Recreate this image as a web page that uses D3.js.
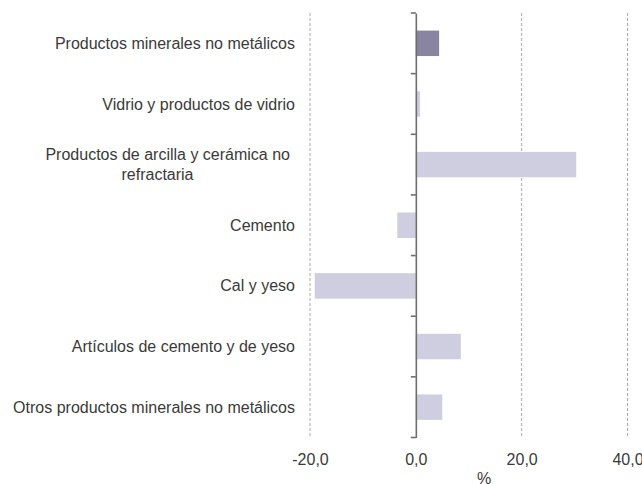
<!DOCTYPE html>
<html><head><meta charset="utf-8">
<script src="https://cdn.jsdelivr.net/npm/d3@7"></script>
<style>html,body{margin:0;padding:0;background:#fff;}</style>
</head><body>
<svg id="c" width="642" height="484"></svg>
<script>
const categories = [
  ["Productos minerales no metálicos"],
  ["Vidrio y productos de vidrio"],
  ["Productos de arcilla y cerámica no", "refractaria"],
  ["Cemento"],
  ["Cal y yeso"],
  ["Artículos de cemento y de yeso"],
  ["Otros productos minerales no metálicos"]
];
const values = [4.4, 0.8, 30.3, -3.5, -19.1, 8.5, 5.0];
const highlight = [true, false, false, false, false, false, false];
const tickValues = [-20, 0, 20, 40];
const tickLabels = ["-20,0", "0,0", "20,0", "40,0"];
const axisTitle = "%";

const svg = d3.select("#c");
const font = "'Liberation Sans', Arial, sans-serif";
const fs = 16;
const textColor = "#3a3a3a";
const x = d3.scaleLinear().domain([-20, 40]).range([310, 627.5]);
const y = d3.scaleBand().domain(d3.range(categories.length)).range([13, 437.5]).paddingInner(0.58).paddingOuter(0.29);
const band = d3.scaleBand().domain(d3.range(categories.length)).range([13, 437.5]);

// gridlines
svg.append("g").selectAll("line").data(tickValues.filter(v => v !== 0)).join("line")
  .attr("x1", d => x(d)).attr("x2", d => x(d))
  .attr("y1", 13).attr("y2", 437.5)
  .attr("stroke", "#aaaaaa").attr("stroke-width", 1).attr("stroke-dasharray", "3,2");

// bars
svg.append("g").selectAll("rect").data(values).join("rect")
  .attr("x", d => x(Math.min(0, d)))
  .attr("width", d => Math.abs(x(d) - x(0)))
  .attr("y", (d, i) => y(i))
  .attr("height", y.bandwidth())
  .attr("fill", (d, i) => highlight[i] ? "#8985a1" : "#cecee0");

// category axis line
const yAxis = d3.axisLeft(band).tickSize(0).tickSizeOuter(0).tickFormat("");
const gy = svg.append("g").attr("transform", `translate(${x(0)},0)`).call(yAxis);
gy.select(".domain").attr("stroke", "#6e6e6e").attr("stroke-width", 1.6);
gy.selectAll(".tick").remove();
// boundary ticks
const bounds = d3.range(categories.length + 1).map(i => 13 + i * band.step());
svg.append("g").selectAll("line").data(bounds).join("line")
  .attr("x1", x(0) - 5).attr("x2", x(0))
  .attr("y1", d => d).attr("y2", d => d)
  .attr("stroke", "#6e6e6e").attr("stroke-width", 1.6);

// category labels
const lab = svg.append("g").attr("font-family", font).attr("font-size", fs).attr("fill", textColor);
categories.forEach((lines, i) => {
  const cy = band(i) + band.bandwidth() / 2;
  const lh = 20;
  lines.forEach((ln, j) => {
    const multi = lines.length > 1;
    const anchor = !multi ? "end" : (j === 0 ? "end" : "middle");
    const ax = !multi ? 295 : (j === 0 ? 290 : 157.5);
    lab.append("text").attr("text-anchor", anchor)
      .attr("x", ax).attr("y", cy + (j - (lines.length - 1) / 2) * lh).attr("dy", "0.35em").text(ln);
  });
});

// x axis labels
const xAxis = d3.axisBottom(x).tickValues(tickValues).tickSize(0).tickFormat((d, i) => tickLabels[i]);
const gx = svg.append("g").attr("transform", "translate(0,450.5)").call(xAxis);
gx.select(".domain").remove();
gx.selectAll("text").attr("font-family", font).attr("font-size", fs).attr("fill", textColor);

svg.append("text").attr("x", 484).attr("y", 484).attr("text-anchor", "middle")
  .attr("font-family", font).attr("font-size", fs).attr("fill", textColor).text(axisTitle);
</script>
</body></html>
